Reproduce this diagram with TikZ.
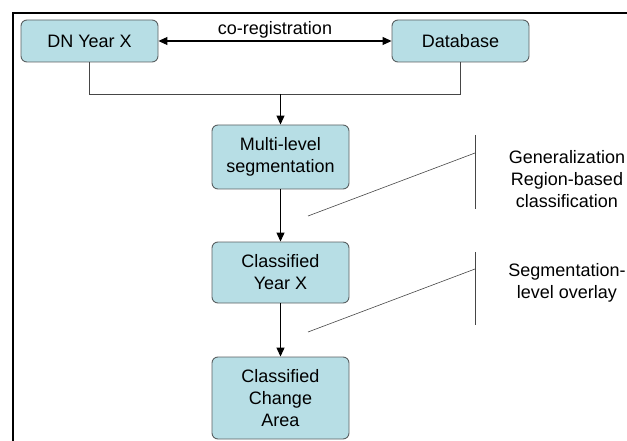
\documentclass[tikz,border=0pt]{standalone}
\usepackage{fontspec}
\setmainfont{Liberation Sans}
\usetikzlibrary{arrows.meta}
\definecolor{boxfill}{RGB}{183,222,229}
\definecolor{boxline}{RGB}{90,96,98}
\definecolor{wire}{RGB}{70,70,70}
\begin{document}
\begin{tikzpicture}[x=1pt,y=-1pt,
		box/.style={draw=boxline,fill=boxfill,rounded corners=6pt,line width=0.9pt,
			minimum width=137pt,align=center,inner sep=0pt,
			font=\fontsize{18}{22}\selectfont},
		wire/.style={draw=wire,line width=1.1pt},
		flow/.style={draw=black,line width=1.1pt,-{Triangle[length=9pt,width=8pt]}},
		note/.style={draw=wire,line width=0.6pt},
		txt/.style={align=center,inner sep=0pt,font=\fontsize{18}{22}\selectfont}]
			\useasboundingbox (0,0) rectangle (627,441);
			\clip (0,0) rectangle (627,441);
			\draw[line width=2.5pt] (13,460) -- (13,13) -- (660,13);
			
			\node[box,minimum height=42pt] (dn)at(89.5,41) {DN Year X};
			\node[box,minimum height=42pt] (db)at(460.5,41) {Database};
			\node[box,minimum height=64pt] (seg)at(280.5,157) {Multi-level\\segmentation};
			\node[box,minimum height=61pt] (cls)at(280.5,272.5) {Classified\\Year X};
			\node[box,minimum height=82pt] (chg)at(280.5,398) {Classified\\Change\\Area};
			
			\node[txt] (gen)at(567,179) {Generalization\\Region-based\\classification};
			\node[txt] (ovl)at(567,283) {Segmentation-\\level overlay};
			
			\draw[draw=black,line width=1.1pt,{Triangle[length=9pt,width=8pt]}-{Triangle[length=9pt,width=8pt]}] (dn) -- node[txt,above=2pt] (coreg) {co-registration} (db);
			\draw[wire] (dn.south) -- ++(0,32) -| (db.south);
			\coordinate (join)at(280.5,94);
			\draw[flow] (join) -- (seg);
			\draw[flow] (seg) -- (cls);
			\draw[flow] (cls) -- (chg);
			
			\coordinate (g1)at(475,135);
			\coordinate (g2)at(475,209);
			\coordinate (g3)at(475,153);
			\coordinate (g4)at(308,216);
			\draw[note] (g1) -- (g2);
			\draw[note] (g3) -- (g4);
			
			\coordinate (o1)at(475,252);
			\coordinate (o2)at(475,325);
			\coordinate (o3)at(475,269);
			\coordinate (o4)at(308,332);
			\draw[note] (o1) -- (o2);
			\draw[note] (o3) -- (o4);
		\end{tikzpicture}
\end{document}
